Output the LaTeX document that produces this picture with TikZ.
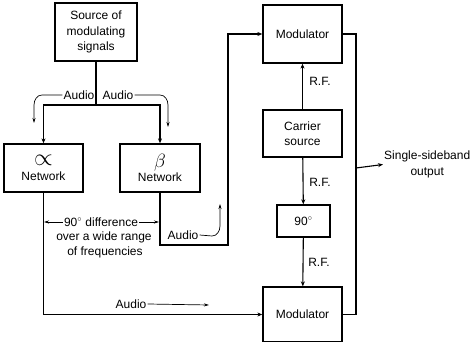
\documentclass[tikz,border=0pt]{standalone}
\usepackage{graphicx}
\usepackage{fontspec}
\setmainfont{Liberation Sans}
\usetikzlibrary{arrows.meta}
\begin{document}
\begin{tikzpicture}[x=1pt,y=-1pt,
  txt/.style={font=\fontsize{12}{15.5}\selectfont},
  box/.style={draw,line width=1.3pt,inner sep=0pt,align=center,txt},
  lbl/.style={inner sep=1pt,txt},
  wire/.style={line width=1.1pt},
  arr/.style={wire,-{Stealth[length=5pt,width=4pt]}},
  thinw/.style={line width=0.7pt},
  tarr/.style={thinw,-{Stealth[length=5pt,width=3pt]}}]
\useasboundingbox[fill=white] (0,0) rectangle (475,342);
% boxes
\node[box,minimum width=82pt,minimum height=58pt] (src) at (96,32) {Source of\\modulating\\signals};
\node[box,minimum width=79pt,minimum height=48pt] (al) at (43.5,168) {\scalebox{2}{$\propto$}\\[-1pt]Network};
\node[box,minimum width=80pt,minimum height=48pt] (be) at (160,168) {\scalebox{1.6}{$\beta$}\\[-1pt]Network};
\node[box,minimum width=79pt,minimum height=58pt] (mt) at (302.5,34) {Modulator};
\node[box,minimum width=79pt,minimum height=47pt] (ca) at (302.5,133.5) {Carrier\\source};
\node[box,minimum width=53pt,minimum height=32pt] (nn) at (303.5,221) {90$^\circ$};
\node[box,minimum width=79pt,minimum height=55pt] (mb) at (302.5,314.5) {Modulator};
\node[lbl,anchor=west,align=center] (out) at (383,164.5) {Single-sideband\\output};
% labels
\node[lbl] (a1) at (79,95) {Audio};
\node[lbl] (a2) at (118,95) {Audio};
\node[lbl] (d1) at (101,222) {90$^\circ$ difference};
\node[lbl] (d2) at (104,237) {over a wide range};
\node[lbl] (d3) at (105,252) {of frequencies};
\node[lbl] (a3) at (183,235) {Audio};
\node[lbl] (a4) at (131,304) {Audio};
\node[lbl] (r1) at (320,81) {R.F.};
\node[lbl] (r2) at (320,182) {R.F.};
\node[lbl] (r3) at (319,262) {R.F.};
% coordinates
\coordinate (sp) at (96,105);
\coordinate (bc) at (228,245);
\coordinate (oj) at (356,168);
\coordinate (t1) at (34,123);
\coordinate (t2) at (168,127);
\coordinate (la) at (44,222);
\coordinate (lb) at (159,222);
\coordinate (t3) at (220,204);
\coordinate (t4) at (209,305);
% main wires
\draw[wire] (src) -- (sp);
\draw[arr] (sp) -| (al);
\draw[arr] (sp) -| (be);
\draw[arr] (al) |- (mb);
\draw[arr] (be) |- (bc) |- (mt);
\draw[arr] (ca) -- (mt);
\draw[arr] (ca) -- (nn);
\draw[arr] (nn) -- (mb);
\draw[wire] (mt.east) -| (oj);
\draw[wire] (mb.east) -| (oj);
\draw[arr] (oj) -- (out.west);
% annotation arrows
\draw[tarr] (a1.west) -- (42,95) to[out=180,in=90] (34,105) -- (t1);
\draw[tarr] (a2.east) -- (160,95) to[out=0,in=90] (168,105) -- (t2);
\draw[tarr] (d1.west) -- (la);
\draw[tarr] (d1.east) -- (lb);
\draw[tarr] (a3.east) -- (212,236) to[out=0,in=270] (220,226) -- (t3);
\draw[tarr] (a4.east) -- (t4);
\end{tikzpicture}
\end{document}
